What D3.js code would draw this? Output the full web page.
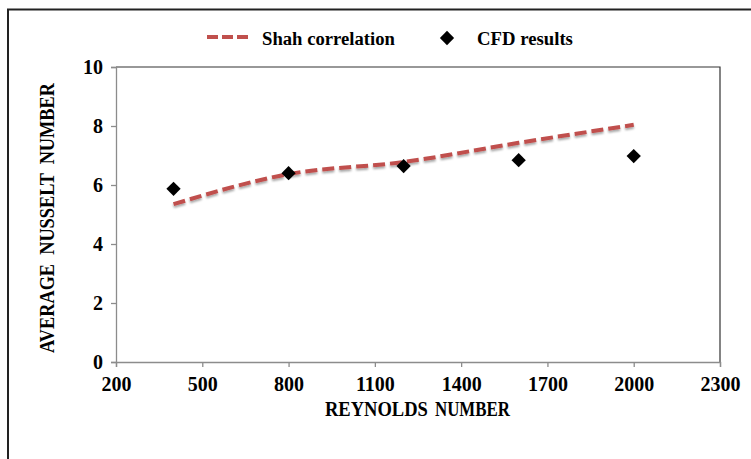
<!DOCTYPE html>
<html>
  <head>
    <meta charset="utf-8" />
    <title>Nusselt number</title>
    <script src="https://d3js.org/d3.v7.min.js"></script>
    <style>
        body{
            margin:0;
            background:#fff;
        }
        text{
            font-family:"Liberation Serif", "Times New Roman", serif;
            font-weight:bold;
        }
    </style>
  </head>
  <body>
    <svg id="chart"></svg>

    <script>
      // data
      var reynolds = [400, 800, 1200, 1600, 2000];
      var shahNu = [5.35, 6.37, 6.78, 7.43, 8.04];
      var cfdNu = [5.87, 6.40, 6.64, 6.84, 6.98];
      var xTicks = [200, 500, 800, 1100, 1400, 1700, 2000, 2300];
      var yTicks = [0, 2, 4, 6, 8, 10];

      var width = 751, height = 459;
      var margin = {top: 67, left: 116, right: 31, bottom: 97};

      var svg = d3.select("#chart")
        .attr("width", width)
        .attr("height", height);

      var defs = svg.append("defs");
      var shadow = defs.append("filter").attr("id", "shadow")
        .attr("x", "-5%").attr("y", "-50%").attr("width", "110%").attr("height", "200%");
      shadow.append("feDropShadow")
        .attr("dx", 0).attr("dy", 2).attr("stdDeviation", 1.2)
        .attr("flood-color", "#000").attr("flood-opacity", 0.35);

      // outer frame
      svg.append("path")
        .attr("d", "M8,462 L8,9.5 L755,9.5")
        .attr("fill", "none")
        .attr("stroke", "#222")
        .attr("stroke-width", 2);

      var x = d3.scaleLinear()
        .domain([200, 2300])
        .range([margin.left, width - margin.right]);

      var y = d3.scaleLinear()
        .domain([0, 10])
        .range([height - margin.bottom, margin.top]);

      // plot border top / right
      svg.append("path")
        .attr("d", "M" + x(200) + "," + y(10) + " L" + x(2300) + "," + y(10) + " L" + x(2300) + "," + y(0))
        .attr("fill", "none")
        .attr("stroke", "#333")
        .attr("stroke-width", 1.2);

      var xAxis = d3.axisBottom(x).tickValues(xTicks).tickSize(5).tickPadding(10).tickFormat(d3.format("d"));
      var gx = svg.append("g")
        .attr("transform", "translate(0," + y(0) + ")")
        .call(xAxis);

      var yAxis = d3.axisLeft(y).tickValues(yTicks).tickSize(5).tickPadding(8);
      var gy = svg.append("g")
        .attr("transform", "translate(" + x(200) + ",0)")
        .call(yAxis);

      [gx, gy].forEach(function(g) {
        g.attr("font-family", null).attr("font-size", null);
        g.selectAll("path, line").attr("stroke", "#8c8c8c").attr("stroke-width", 1.3);
        g.selectAll("text")
          .attr("fill", "#000")
          .style("font-size", "20px");
      });

      // axis titles
      function fitText(sel, len) {
        var w = sel.node().getComputedTextLength();
        var cx = +sel.attr("x");
        sel.attr("transform", "translate(" + cx + ",0) scale(" + (len / w) + ",1) translate(" + (-cx) + ",0)");
      }

      var t1 = svg.append("text")
        .attr("x", 325).attr("y", 416)
        .style("font-size", "20px")
        .text("REYNOLDS");
      fitText(t1, 103);
      var t2 = svg.append("text")
        .attr("x", 435).attr("y", 416)
        .style("font-size", "20px")
        .text("NUMBER");
      fitText(t2, 75);

      var ytitle = svg.append("g")
        .attr("transform", "translate(54,353) rotate(-90)");
      var yt = ytitle.append("text")
        .attr("x", 0).attr("y", 0)
        .style("font-size", "20px")
        .attr("xml:space", "preserve")
        .text("AVERAGE  NUSSELT  NUMBER");
      fitText(yt, 270);

      // Shah correlation line
      var line = d3.line()
        .x(function(d, i) { return x(reynolds[i]); })
        .y(function(d) { return y(d); })
        .curve(d3.curveMonotoneX);

      svg.append("path")
        .datum(shahNu)
        .attr("d", line)
        .attr("fill", "none")
        .attr("stroke", "#c0504d")
        .attr("stroke-width", 4)
        .attr("stroke-dasharray", "12,5")
        .attr("filter", "url(#shadow)");

      // CFD markers
      var diamond = d3.symbol().type(d3.symbolDiamond2).size(130);
      svg.selectAll(".cfd")
        .data(cfdNu)
        .enter().append("path")
        .attr("class", "cfd")
        .attr("d", diamond)
        .attr("transform", function(d, i) {
          return "translate(" + x(reynolds[i]) + "," + y(d) + ")";
        })
        .attr("fill", "#000");

      // legend
      var legend = svg.append("g");
      legend.append("line")
        .attr("x1", 207).attr("x2", 252)
        .attr("y1", 37).attr("y2", 37)
        .attr("stroke", "#c0504d")
        .attr("stroke-width", 4)
        .attr("stroke-dasharray", "11,4");
      var l1 = legend.append("text")
        .attr("x", 262).attr("y", 45)
        .style("font-size", "19px")
        .text("Shah correlation");
      fitText(l1, 133);
      legend.append("path")
        .attr("d", diamond)
        .attr("transform", "translate(447,38)")
        .attr("fill", "#000");
      var l2 = legend.append("text")
        .attr("x", 477).attr("y", 45)
        .style("font-size", "19px")
        .text("CFD results");
      fitText(l2, 96);
    </script>
  </body>
</html>
